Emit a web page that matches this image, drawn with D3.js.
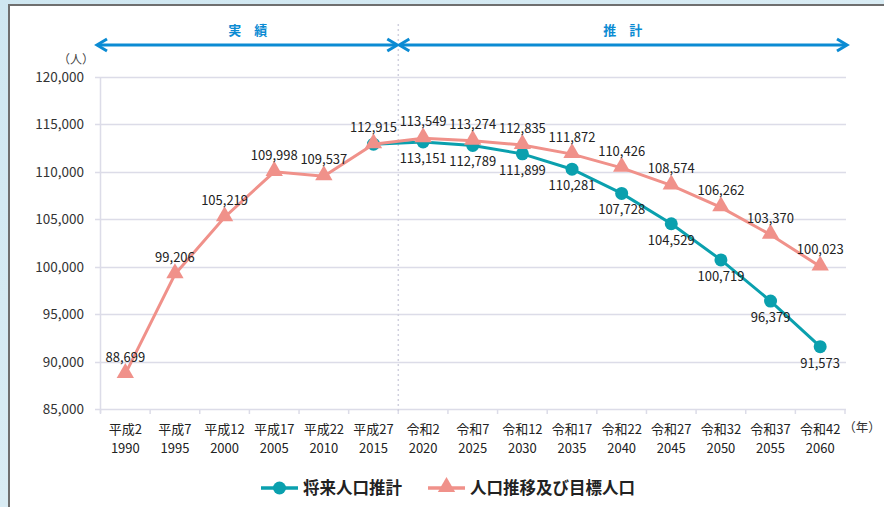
<!DOCTYPE html>
<html><head><meta charset="utf-8">
<script src="https://cdn.jsdelivr.net/npm/d3@7/dist/d3.min.js"></script>
<style>
html,body{margin:0;padding:0;background:#dcedf4;}
svg{display:block;}
text{font-family:"Noto Sans CJK JP","Noto Sans",sans-serif;}
</style></head>
<body>
<svg id="c" width="884" height="507"></svg>
<script>
const eraLabels = ["平成2","平成7","平成12","平成17","平成22","平成27","令和2","令和7","令和12","令和17","令和22","令和27","令和32","令和37","令和42"];
const years = ["1990","1995","2000","2005","2010","2015","2020","2025","2030","2035","2040","2045","2050","2055","2060"];
const targetPop = [88699,99206,105219,109998,109537,112915,113549,113274,112835,111872,110426,108574,106262,103370,100023];
const projYears = ["2015","2020","2025","2030","2035","2040","2045","2050","2055","2060"];
const projPop = [112915,113151,112789,111899,110281,107728,104529,100719,96379,91573];
const yTicks = [85000,90000,95000,100000,105000,110000,115000,120000];
const seriesNames = ["将来人口推計","人口推移及び目標人口"];
const periodLabels = ["実　績","推　計"];

const teal = "#0aa0ae", pink = "#f0918a", blue = "#0b8bd3";
const svg = d3.select("#c");
// background & panel
const defs = svg.append("defs");
const g0 = defs.append("linearGradient").attr("id","bg").attr("x1",0).attr("y1",0).attr("x2",1).attr("y2",1);
g0.append("stop").attr("offset","0").attr("stop-color","#cfe7f1");
g0.append("stop").attr("offset","1").attr("stop-color","#e3f1f7");
svg.append("rect").attr("width",884).attr("height",507).attr("fill","url(#bg)");
svg.append("rect").attr("x",9).attr("y",5).attr("width",880).attr("height",510).attr("fill","#fff").attr("stroke","#6f6f6f").attr("stroke-width",2);

const x = d3.scaleBand().domain(years).range([100.5,845]);
const y = d3.scaleLinear().domain([85000,120000]).range([409,77]);
const cx = d => x(d) + x.bandwidth()/2;

// gridlines
svg.append("g").selectAll("line").data(yTicks).join("line")
  .attr("x1",95).attr("x2",846).attr("y1",d=>Math.round(y(d))+0.5).attr("y2",d=>Math.round(y(d))+0.5)
  .attr("stroke","#dcdce8").attr("stroke-width",1.5);
// y axis line
svg.append("line").attr("x1",100.5).attr("x2",100.5).attr("y1",77).attr("y2",413).attr("stroke","#dcdce8").attr("stroke-width",1.5);
// category tick marks
svg.append("g").selectAll("line").data(years.concat(["end"])).join("line")
  .attr("x1",(d,i)=>i<years.length?x(d):845).attr("x2",(d,i)=>i<years.length?x(d):845)
  .attr("y1",409).attr("y2",414).attr("stroke","#dcdce8").attr("stroke-width",1.5);

// y tick labels
svg.append("g").selectAll("text").data(yTicks).join("text")
  .attr("x",84).attr("y",d=>y(d)+5).attr("text-anchor","end")
  .attr("font-size",13.5).attr("fill","#333").text(d3.format(","));
svg.append("text").attr("x",76).attr("y",64).attr("text-anchor","middle").attr("font-size",12).attr("fill","#444").text("（人）");

// x labels
const xl = svg.append("g").selectAll("g").data(years).join("g");
xl.append("text").attr("x",d=>cx(d)).attr("y",434).attr("text-anchor","middle").attr("font-size",13).attr("fill","#222").text((d,i)=>eraLabels[i]);
xl.append("text").attr("x",d=>cx(d)).attr("y",453).attr("text-anchor","middle").attr("font-size",13).attr("fill","#222").text(d=>d);
svg.append("text").attr("x",862).attr("y",432).attr("text-anchor","middle").attr("font-size",12.5).attr("fill","#333").text("（年）");

// divider
const divX = x("2020");
svg.append("line").attr("x1",divX).attr("x2",divX).attr("y1",24).attr("y2",413)
  .attr("stroke","#d0d0de").attr("stroke-width",1.5).attr("stroke-dasharray","2,3");

// period arrows
function arrow(x1,x2,yy,both){
  svg.append("line").attr("x1",x1+1).attr("x2",x2-1).attr("y1",yy).attr("y2",yy).attr("stroke",blue).attr("stroke-width",3);
  const head = (px,dir) => svg.append("path").attr("d",`M${px-dir*10},${yy-6} L${px},${yy} L${px-dir*10},${yy+6}`)
    .attr("fill","none").attr("stroke",blue).attr("stroke-width",3).attr("stroke-linejoin","miter");
  head(x2,1); if(both) head(x1,-1);
}
arrow(97,divX-1,45,true);
arrow(divX+1,847,45,true);
svg.append("text").attr("x",(97+divX)/2).attr("y",35).attr("text-anchor","middle").attr("font-size",13).attr("font-weight","bold").attr("fill",blue).text(periodLabels[0]);
svg.append("text").attr("x",(divX+847)/2).attr("y",35).attr("text-anchor","middle").attr("font-size",13).attr("font-weight","bold").attr("fill",blue).text(periodLabels[1]);

// lines
const line = d3.line().x(d=>cx(d[0])).y(d=>y(d[1]));
const projData = projYears.map((d,i)=>[d,projPop[i]]);
const targData = years.map((d,i)=>[d,targetPop[i]]);
const tri = d3.symbol().type(d3.symbolTriangle).size(130);

svg.append("path").attr("d",line(projData)).attr("fill","none").attr("stroke",teal).attr("stroke-width",3);
svg.append("g").selectAll("circle").data(projData).join("circle")
  .attr("cx",d=>cx(d[0])).attr("cy",d=>y(d[1])).attr("r",6.5).attr("fill",teal);

svg.append("path").attr("d",line(targData)).attr("fill","none").attr("stroke",pink).attr("stroke-width",3);
svg.append("g").selectAll("path").data(targData).join("path")
  .attr("d",tri).attr("transform",d=>`translate(${cx(d[0])},${y(d[1])-1})`).attr("fill",pink);

// data labels
svg.append("g").selectAll("text").data(targData).join("text")
  .attr("x",d=>cx(d[0])).attr("y",d=>y(d[1])-12).attr("text-anchor","middle")
  .attr("font-size",13).attr("fill","#222").text(d=>d3.format(",")(d[1]));
svg.append("g").selectAll("text").data(projData.slice(1)).join("text")
  .attr("x",d=>cx(d[0])).attr("y",d=>y(d[1])+21).attr("text-anchor","middle")
  .attr("font-size",13).attr("fill","#222").text(d=>d3.format(",")(d[1]));

// legend
const lg = svg.append("g");
lg.append("line").attr("x1",261).attr("x2",298).attr("y1",488).attr("y2",488).attr("stroke",teal).attr("stroke-width",3.5);
lg.append("circle").attr("cx",279.5).attr("cy",488).attr("r",6.5).attr("fill",teal);
lg.append("text").attr("x",303).attr("y",494).attr("font-size",16.5).attr("font-weight","bold").attr("fill","#222").text(seriesNames[0]);
lg.append("line").attr("x1",428).attr("x2",465).attr("y1",488).attr("y2",488).attr("stroke",pink).attr("stroke-width",3.5);
lg.append("path").attr("d",tri).attr("transform","translate(446.5,487)").attr("fill",pink);
lg.append("text").attr("x",470).attr("y",494).attr("font-size",16.5).attr("font-weight","bold").attr("fill","#222").text(seriesNames[1]);
</script>
</body></html>
